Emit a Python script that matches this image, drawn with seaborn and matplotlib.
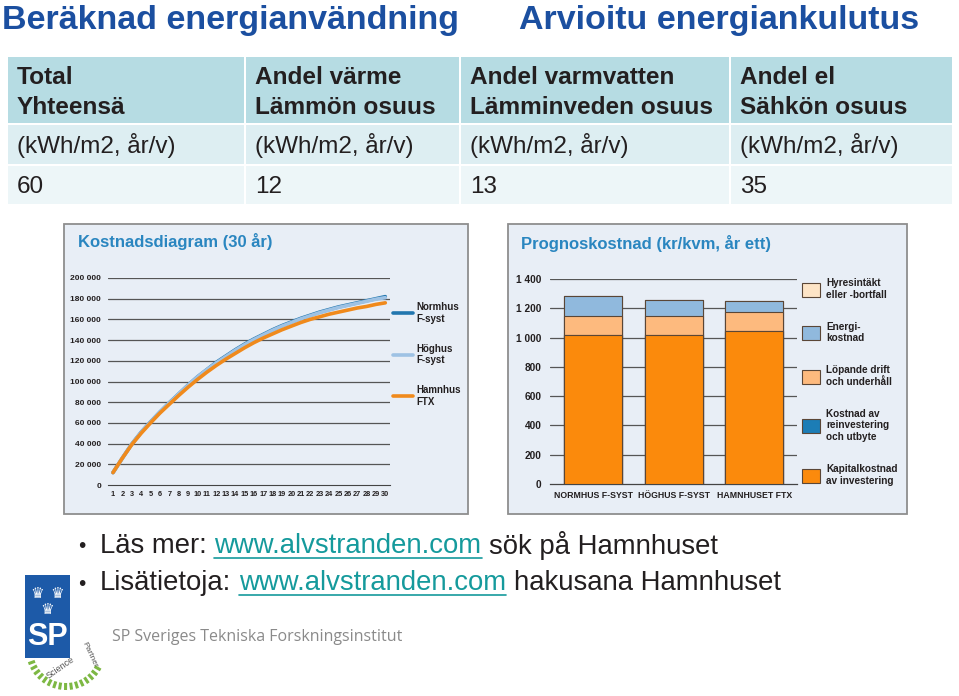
import matplotlib
matplotlib.use("Agg")
import numpy as np
import pandas as pd
import seaborn as sns
import matplotlib.pyplot as plt
from matplotlib.lines import Line2D
from matplotlib.patches import Patch, Rectangle

# ---- data ----
table_head1 = ["Total", "Andel värme", "Andel varmvatten", "Andel el"]
table_head2 = ["Yhteensä", "Lämmön osuus", "Lämminveden osuus", "Sähkön osuus"]
table_unit = "(kWh/m2, år/v)"
table_values = ["60", "12", "13", "35"]

years = list(range(1, 31))
normhus = [12000, 26000, 39500, 51000, 61000, 70500, 79500, 88000, 96500, 104500,
           111500, 118500, 124500, 130500, 136000, 141000, 145500, 150000, 154000, 157500,
           161000, 164000, 167000, 169500, 172000, 174000, 176000, 178000, 180000, 182000]
hoghus = [12000, 26000, 39500, 51000, 61000, 70500, 79500, 88000, 96500, 104500,
          111500, 118000, 124000, 130000, 135500, 140500, 145000, 149500, 153500, 157000,
          160500, 163500, 166500, 169000, 171500, 173500, 175500, 177500, 179500, 181000]
hamnhus = [12000, 26000, 39000, 50000, 60000, 69500, 78000, 86500, 94500, 102000,
           109000, 115500, 121500, 127000, 132500, 137500, 142000, 146000, 150000, 153500,
           157000, 160000, 162500, 165000, 167000, 169000, 171000, 172500, 174500, 176000]
line_labels = ["Normhus\nF-syst", "Höghus\nF-syst", "Hamnhus\nFTX"]

houses = ["NORMHUS F-SYST", "HÖGHUS F-SYST", "HAMNHUSET FTX"]
kapital = [1015, 1020, 1042]
reinvest = [0, 0, 0]
lopande = [135, 130, 130]
energi = [137, 110, 75]
hyres = [0, 0, 0]
bar_labels = ["Hyresintäkt\neller -bortfall", "Energi-\nkostnad", "Löpande drift\noch underhåll",
              "Kostnad av\nreinvestering\noch utbyte", "Kapitalkostnad\nav investering"]

# ---- styles ----
W, H = 959, 696
sns.set_style("white")
plt.rcParams["font.family"] = ["Liberation Sans", "DejaVu Sans"]

title_blue = "#1B4FA0"
chart_blue = "#2A86C0"
dark = "#231F20"
panel_bg = "#E8EEF6"
c_norm, c_hog, c_hamn = "#2176AE", "#9EC2E4", "#F08A1C"
c_kap, c_reinv, c_lop, c_en, c_hyr = "#FB8A0C", "#1C7DB6", "#FDBA7E", "#90B9DD", "#FDE4C6"


def box(x0, y0, x1, y1):
    return [x0 / W, 1 - y1 / H, (x1 - x0) / W, (y1 - y0) / H]


fig = plt.figure(figsize=(W / 100, H / 100), dpi=100)
bg = fig.add_axes([0, 0, 1, 1])
bg.set_xlim(0, W)
bg.set_ylim(H, 0)
bg.axis("off")

# titles
bg.text(2, 21, "Beräknad energianvändning", fontsize=24.5, fontweight="bold", color=title_blue, va="center")
bg.text(519, 21, "Arvioitu energiankulutus", fontsize=24.5, fontweight="bold", color=title_blue, va="center")

# table
cols = [7, 245, 460, 730, 953]
rows = [(57, 124, "#B6DCE3"), (125, 165, "#DDEEF2"), (166, 205, "#EDF6F8")]
for y0, y1, col in rows:
    for i in range(4):
        bg.add_patch(Rectangle((cols[i] + 1, y0), cols[i + 1] - cols[i] - 2, y1 - y0 - 1, color=col, lw=0))
for i in range(4):
    x = cols[i] + 10
    bg.text(x, 78, table_head1[i], fontsize=17.6, fontweight="bold", color=dark, va="center")
    bg.text(x, 107, table_head2[i], fontsize=17.6, fontweight="bold", color=dark, va="center")
    bg.text(x, 146, table_unit, fontsize=17.5, color=dark, va="center")
    bg.text(x, 187, table_values[i], fontsize=17.5, color=dark, va="center")

# chart panels
for x0, x1 in [(64, 468), (508, 907)]:
    bg.add_patch(Rectangle((x0, 224), x1 - x0, 290, facecolor=panel_bg, edgecolor="#8E8E8E", lw=1.3))
bg.text(78, 242, "Kostnadsdiagram (30 år)", fontsize=12, fontweight="bold", color=chart_blue, va="center")
bg.text(521, 244, "Prognoskostnad (kr/kvm, år ett)", fontsize=12, fontweight="bold", color=chart_blue,
        va="center")

# ---- line chart ----
ax1 = fig.add_axes(box(108, 278, 390, 485))
ax1.patch.set_alpha(0)
df_lines = pd.DataFrame({"year": years * 3,
                         "cost": normhus + hoghus + hamnhus,
                         "hus": [line_labels[0]] * 30 + [line_labels[1]] * 30 + [line_labels[2]] * 30})
sns.lineplot(data=df_lines, x="year", y="cost", hue="hus",
             palette=[c_norm, c_hog, c_hamn], linewidth=2.6, ax=ax1, zorder=3, legend=False)
ax1.set_xlim(0.47, 30.43)
ax1.set_ylim(0, 200000)
yt = list(range(0, 200001, 20000))
ax1.set_yticks(yt)
ax1.set_yticklabels([f"{v:,}".replace(",", " ") for v in yt])
for v in yt[1:]:
    ax1.axhline(v, color="#555555", lw=0.9, zorder=1)
ax1.set_xticks(years)
ax1.set_xticks(np.arange(0.5, 30.6, 1.0), minor=True)
ax1.tick_params(axis="y", length=0, pad=5, labelsize=6.0, labelcolor=dark)
ax1.tick_params(axis="x", which="both", direction="out", length=2, width=0.6, color="#444", pad=2,
                labelsize=5.3, labelcolor=dark)
for lab in ax1.get_xticklabels() + ax1.get_yticklabels():
    lab.set_fontweight("bold")
for s in ["top", "right", "left"]:
    ax1.spines[s].set_visible(False)
ax1.spines["bottom"].set_color("#444")
ax1.spines["bottom"].set_linewidth(0.8)
ax1.set_xlabel("")
ax1.set_ylabel("")
handles1 = [Line2D([], [], color=c, lw=2.6) for c in [c_norm, c_hog, c_hamn]]
leg1 = ax1.legend(handles1, line_labels, loc="upper left", bbox_to_anchor=(393 / W, 1 - 302 / H),
                  bbox_transform=fig.transFigure, frameon=False, handlelength=2.1, handletextpad=0.3,
                  labelspacing=2.05, borderaxespad=0, borderpad=0,
                  prop={"weight": "bold", "size": 7})
for t in leg1.get_texts():
    t.set_color(dark)

# ---- stacked bar chart ----
ax2 = fig.add_axes(box(550, 279, 797, 484))
ax2.patch.set_alpha(0)
stack = pd.DataFrame({"hus": houses, "kap": kapital, "reinv": reinvest, "lop": lopande,
                      "en": energi, "hyr": hyres})
stack["c_reinv"] = stack["kap"] + stack["reinv"]
stack["c_lop"] = stack["c_reinv"] + stack["lop"]
stack["c_en"] = stack["c_lop"] + stack["en"]
stack["c_hyr"] = stack["c_en"] + stack["hyr"]
for colname, col in [("c_hyr", c_hyr), ("c_en", c_en), ("c_lop", c_lop), ("c_reinv", c_reinv), ("kap", c_kap)]:
    sns.barplot(data=stack, x="hus", y=colname, color=col, saturation=1, width=0.72,
                edgecolor="#5A4636", linewidth=0.8, errorbar=None, ax=ax2, zorder=3)
ax2.set_xlim(-0.534, 2.528)
ax2.set_ylim(0, 1400)
yt2 = list(range(0, 1401, 200))
ax2.set_yticks(yt2)
ax2.set_yticklabels([f"{v:,}".replace(",", " ") for v in yt2])
for v in yt2[1:]:
    ax2.axhline(v, color="#555555", lw=0.9, zorder=1)
ax2.tick_params(axis="y", length=0, pad=6, labelsize=7.3, labelcolor=dark)
ax2.tick_params(axis="x", length=0, pad=5, labelsize=6.3, labelcolor=dark)
for lab in ax2.get_xticklabels() + ax2.get_yticklabels():
    lab.set_fontweight("bold")
for s in ["top", "right", "left"]:
    ax2.spines[s].set_visible(False)
ax2.spines["bottom"].set_color("#444")
ax2.spines["bottom"].set_linewidth(0.9)
ax2.set_xlabel("")
ax2.set_ylabel("")
handles2 = [Patch(facecolor=c, edgecolor="#5A4636", lw=0.8) for c in [c_hyr, c_en, c_lop, c_reinv, c_kap]]
leg2 = ax2.legend(handles2, bar_labels, loc="upper left", bbox_to_anchor=(802 / W, 1 - 278 / H),
                  bbox_transform=fig.transFigure, frameon=False, handlelength=1.8, handleheight=1.8,
                  handletextpad=0.6, labelspacing=2.2, borderaxespad=0, borderpad=0,
                  prop={"weight": "bold", "size": 7.2})
for t in leg2.get_texts():
    t.set_color(dark)

# ---- bullets ----
renderer = fig.canvas.get_renderer()
bullet_size = 19.8


def width(t):
    return t.get_window_extent(renderer).width


def chain(x, y, parts):
    probe1 = bg.text(0, 0, "a a", fontsize=bullet_size)
    probe2 = bg.text(0, 0, "aa", fontsize=bullet_size)
    space = width(probe1) - width(probe2)
    probe1.remove()
    probe2.remove()
    for s, col, under in parts:
        t = bg.text(x, y, s, color=col, va="center", fontsize=bullet_size)
        w = width(t)
        if under:
            bg.plot([x, x + w], [y + 12, y + 12], color=col, lw=1.2)
        x += w + space


link = "#159A9C"
bg.text(78, 547, "•", fontsize=15, color=dark, va="center")
bg.text(78, 584, "•", fontsize=15, color=dark, va="center")
chain(100, 546, [("Läs mer:", dark, False), ("www.alvstranden.com", link, True), ("sök på Hamnhuset", dark, False)])
chain(100, 583, [("Lisätietoja:", dark, False), ("www.alvstranden.com", link, True),
                 ("hakusana Hamnhuset", dark, False)])

# ---- SP logo ----
bg.add_patch(Rectangle((25, 575), 45, 83, color="#1D5AA8", lw=0))
for cx, cy in [(37, 594), (57, 594), (47, 609)]:
    bg.text(cx, cy, "♛", fontsize=11, color="white", ha="center", va="center", family="DejaVu Sans")
bg.text(47, 637, "SP", fontsize=22, color="white", ha="center", va="center", fontweight="bold")
for ang in np.linspace(200, 330, 16):
    a = np.deg2rad(ang)
    r0, r1 = 33, 40
    cx, cy = 66, 650
    bg.plot([cx + r0 * np.cos(a), cx + r1 * np.cos(a)], [cy - r0 * np.sin(a), cy - r1 * np.sin(a)],
            color="#7DB843", lw=2.2, solid_capstyle="butt")
bg.text(60, 668, "Science", fontsize=6.5, color="#555", rotation=35, ha="center", va="center")
bg.text(90, 655, "Partner", fontsize=6, color="#555", rotation=-65, ha="center", va="center")
bg.text(112, 637, "SP Sveriges Tekniska Forskningsinstitut", fontsize=11.5, color="#8A8A8A",
        va="center", family=["Open Sans", "DejaVu Sans"])

fig.savefig("out.png", dpi=100)
